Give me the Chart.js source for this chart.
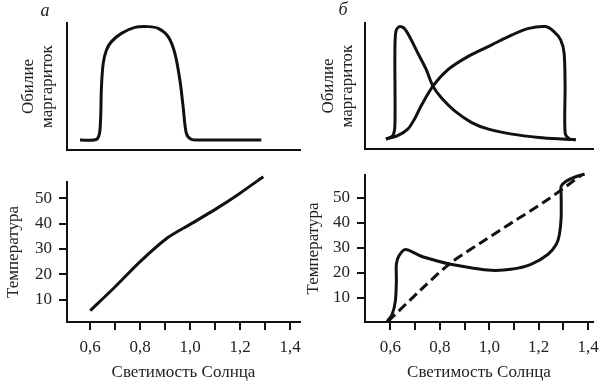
<!DOCTYPE html>
<html><head><meta charset="utf-8">
<script src="https://cdn.jsdelivr.net/npm/chart.js@4"></script>
<style>
html,body{margin:0;padding:0;background:#fff;}
#wrap{position:relative;width:600px;height:382px;background:#fff;}
canvas{position:absolute;left:0;top:0;}
</style></head><body>
<div id="wrap">
<canvas id="cTL" width="600" height="382"></canvas>
<canvas id="cTR" width="600" height="382"></canvas>
<canvas id="cBL" width="600" height="382"></canvas>
<canvas id="cBR" width="600" height="382"></canvas>
</div>
<script>
// ---- texts ----
const panelLetters = ['а', 'б'];
const yTitleTop = ['Обилие', 'маргариток'];
const yTitleBottom = 'Температура';
const xTitle = 'Светимость Солнца';
// ---- ticks ----
const xTickValues = [0.6, 0.7, 0.8, 0.9, 1.0, 1.1, 1.2, 1.3, 1.4];
const xTickLabels = ['0,6', '', '0,8', '', '1,0', '', '1,2', '', '1,4'];
const yTickValues = [10, 20, 30, 40, 50];
const yTickLabels = ['10', '20', '30', '40', '50'];
// ---- panel a: daisy abundance ----
const aAbundX = [0.559,0.625,0.639,0.645,0.652,0.665,0.685,0.725,0.779,0.832,0.872,0.912,0.939,0.959,0.972,0.985,1.005,1.045,1.285];
const aAbundY = [8,8.5,16,50.7,69.3,80,86.7,93.3,98.1,98.7,97.3,90.7,77.3,56,34.7,13.3,8.5,8,8];
// ---- panel a: temperature ----
const aTempX = [0.6,0.7,0.8,0.907,1.0,1.107,1.2,1.293];
const aTempY = [5.7,15.1,25.0,34.2,39.7,46.0,52.0,58.5];
// ---- panel b: abundance, dark daisies ----
const bAbund1X = [0.582,0.609,0.618,0.618,0.622,0.636,0.656,0.677,0.711,0.745,0.772,0.806,0.860,0.929,0.997,1.092,1.201,1.296,1.35];
const bAbund1Y = [8,10.7,18.7,77.3,94.7,98.7,97.3,90.7,77.3,64,50.7,41.3,30.7,21.3,16,12,9.3,8,7.5];
// ---- panel b: abundance, light daisies ----
const bAbund2X = [0.582,0.629,0.670,0.697,0.724,0.772,0.833,0.915,1.010,1.092,1.160,1.228,1.262,1.289,1.303,1.307,1.307,1.323,1.35];
const bAbund2Y = [8,10.7,16,24,34.7,50.7,64,74.7,84,92,97.3,98.7,94.7,88,77.3,50.7,13.3,8.3,7.5];
// ---- panel b: temperature with daisies (solid) ----
const bTempX = [0.587,0.607,0.620,0.624,0.624,0.634,0.661,0.722,0.790,0.844,0.925,1.007,1.088,1.169,1.237,1.271,1.284,1.291,1.291,1.291,1.311,1.345,1.386];
const bTempY = [0.6,3.5,8.8,16.8,23.4,26.7,29.3,26.7,24.7,23.4,22.0,21.0,21.4,23.4,27.3,31.3,35.3,42.0,51.2,54.5,56.5,58.1,59.4];
// ---- panel b: temperature without daisies (dashed) ----
const bTempNoX = [0.59,0.715,0.837,0.966,1.101,1.237,1.372];
const bTempNoY = [0.6,12.5,23.4,32.0,40.6,49.2,58.9];

const FONT = '"Liberation Serif", "DejaVu Serif", serif';
const INK = '#111';
const TXT = '#222';

function pts(xs, ys) { return xs.map((x, i) => ({x: x, y: ys[i]})); }

const letterPlugin = {
  id: 'letter',
  afterDraw(chart, args, opts) {
    if (!opts || !opts.text) return;
    const ctx = chart.ctx;
    ctx.save();
    ctx.font = 'italic 18px ' + FONT;
    ctx.fillStyle = TXT;
    ctx.textAlign = 'center';
    ctx.textBaseline = 'middle';
    ctx.fillText(opts.text, opts.x, opts.y);
    ctx.restore();
  }
};

function xScale(min, max, showTicks, height) {
  return {
    type: 'linear', position: 'bottom', min: min, max: max,
    afterFit(s) { s.height = height; s.paddingLeft = 0; s.paddingRight = 0; },
    afterBuildTicks(s) { if (showTicks) s.ticks = xTickValues.map(v => ({value: v})); },
    ticks: {display: showTicks, autoSkip: false, maxRotation: 0, minRotation: 0, padding: 7, color: TXT,
      font: {family: FONT, size: 17}, callback: (v, i) => xTickLabels[i]},
    grid: {display: showTicks, drawOnChartArea: false, drawTicks: true, tickLength: 8, color: INK, lineWidth: 2},
    border: {display: true, color: INK, width: 2},
    title: {display: showTicks, text: xTitle, color: TXT, font: {family: FONT, size: 17, lineHeight: 1.1}, padding: {top: 0, bottom: 0}}
  };
}
function yScale(min, max, showTicks, width, titleText, padTop) {
  return {
    type: 'linear', position: 'left', min: min, max: max,
    afterFit(s) { s.width = width; s.paddingTop = 0; s.paddingBottom = 0; },
    afterBuildTicks(s) { if (showTicks) s.ticks = yTickValues.map(v => ({value: v})); },
    ticks: {display: showTicks, padding: 7, color: TXT, font: {family: FONT, size: 17}, callback: (v, i) => yTickLabels[i]},
    grid: {display: showTicks, drawOnChartArea: false, drawTicks: true, tickLength: 8, color: INK, lineWidth: 2},
    border: {display: true, color: INK, width: 2},
    title: {display: true, text: titleText, color: TXT, font: {family: FONT, size: 17, lineHeight: 1.1}, padding: {top: padTop, bottom: 0}}
  };
}
function line(data, dashed) {
  return {data: data, borderColor: INK, borderWidth: 3, pointRadius: 0, fill: false,
    tension: 0.3, clip: false, borderDash: dashed ? [10, 5] : [], borderCapStyle: 'butt', borderJoinStyle: 'round'};
}
function makeChart(id, cfg) {
  return new Chart(document.getElementById(id), {
    type: 'line',
    data: {datasets: cfg.datasets},
    options: {
      responsive: false, animation: false, devicePixelRatio: 1,
      parsing: false, normalized: true,
      layout: {padding: cfg.pad},
      plugins: {legend: {display: false}, tooltip: {enabled: false}, title: {display: false},
        letter: cfg.letter || {}},
      scales: {x: cfg.x, y: cfg.y}
    },
    plugins: [letterPlugin]
  });
}

makeChart('cTL', {
  pad: {left: 0, right: 300, top: 23, bottom: 232},
  x: xScale(0.507, 1.44, false, 0),
  y: yScale(0, 101.6, false, 67, yTitleTop, 19),
  datasets: [line(pts(aAbundX, aAbundY), false)],
  letter: {text: panelLetters[0], x: 45, y: 11.5}
});
makeChart('cTR', {
  pad: {left: 300, right: 7, top: 23, bottom: 233},
  x: xScale(0.497, 1.42, false, 0),
  y: yScale(0, 101.6, false, 65, yTitleTop, 19),
  datasets: [line(pts(bAbund1X, bAbund1Y), false), line(pts(bAbund2X, bAbund2Y), false)],
  letter: {text: panelLetters[1], x: 343, y: 10.5}
});
makeChart('cBL', {
  pad: {left: 0, right: 300, top: 182, bottom: 0},
  x: xScale(0.507, 1.44, true, 60),
  y: yScale(1.2, 56.4, true, 67, yTitleBottom, 4),
  datasets: [line(pts(aTempX, aTempY), false)]
});
makeChart('cBR', {
  pad: {left: 300, right: 7, top: 175, bottom: 0},
  x: xScale(0.497, 1.42, true, 60),
  y: yScale(0.4, 59.0, true, 65, yTitleBottom, 4),
  datasets: [line(pts(bTempX, bTempY), false), line(pts(bTempNoX, bTempNoY), true)]
});
</script>
</body></html>
